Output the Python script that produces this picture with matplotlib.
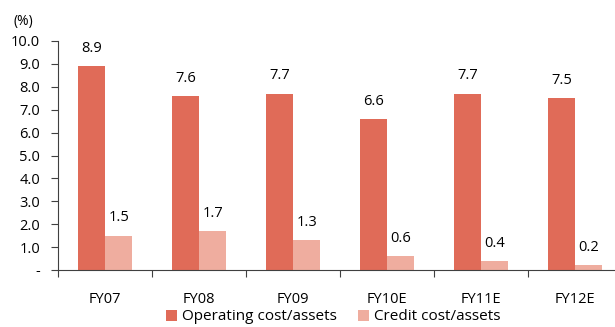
import numpy as np
import matplotlib
matplotlib.use('Agg')
import matplotlib.pyplot as plt

plt.rcParams['font.family'] = ['Open Sans', 'DejaVu Sans']

years = ['FY07', 'FY08', 'FY09', 'FY10E', 'FY11E', 'FY12E']
operating_cost = [8.9, 7.6, 7.7, 6.6, 7.7, 7.5]
credit_cost = [1.5, 1.7, 1.3, 0.6, 0.4, 0.2]
yticks = [0, 1, 2, 3, 4, 5, 6, 7, 8, 9, 10]
ytick_labels = ['-'] + ['{:.1f}'.format(v) for v in yticks[1:]]

c_op = '#E06B58'
c_cr = '#EFAD9F'

W, H = 615, 327
fig = plt.figure(figsize=(W / 100, H / 100), dpi=100)
# axes spans slightly past the right edge, as in the original layout
ax = fig.add_axes([58 / W, (H - 270) / H, 564 / W, 229 / H])

x = np.arange(len(years))
w = 0.29
b1 = ax.bar(x - w / 2, operating_cost, w, color=c_op, label='Operating cost/assets')
b2 = ax.bar(x + w / 2, credit_cost, w, color=c_cr, label='Credit cost/assets')

for xi, v in zip(x, operating_cost):
    ax.text(xi - w / 2, v + 0.45, '{:.1f}'.format(v), ha='center', va='bottom', fontsize=10.5)
for xi, v in zip(x, credit_cost):
    ax.text(xi + w / 2, v + 0.45, '{:.1f}'.format(v), ha='center', va='bottom', fontsize=10.5)

ax.set_xlim(-0.5, len(years) - 0.5)
ax.set_ylim(0, 10)
ax.set_yticks(yticks)
ax.set_yticklabels(ytick_labels, fontsize=10.5)
ax.set_xticks(np.arange(len(years) + 1) - 0.5)
ax.set_xticklabels([])
ax.set_xticks(x, minor=True)
ax.set_xticklabels(years, minor=True, fontsize=10.5)
ax.tick_params(axis='x', which='minor', length=0, pad=16)
ax.tick_params(axis='x', which='major', direction='out', length=5, color='#404040')
ax.tick_params(axis='y', direction='out', length=5, color='#404040', pad=8)

for s in ['top', 'right']:
    ax.spines[s].set_visible(False)
ax.spines['left'].set_color('#404040')
ax.spines['bottom'].set_color('#404040')
ax.spines['bottom'].set_clip_on(False)

fig.text(23 / W, 1 - 21 / H, '(%)', ha='center', va='center', fontsize=10)

fig.legend(handles=[b1, b2], loc='center', bbox_to_anchor=(333 / W, 1 - 317 / H),
           ncol=2, frameon=False, fontsize=11, handlelength=0.75, handleheight=0.75,
           handletextpad=0.3, columnspacing=1.4, borderpad=0.1)

fig.savefig('out.png', dpi=100)
